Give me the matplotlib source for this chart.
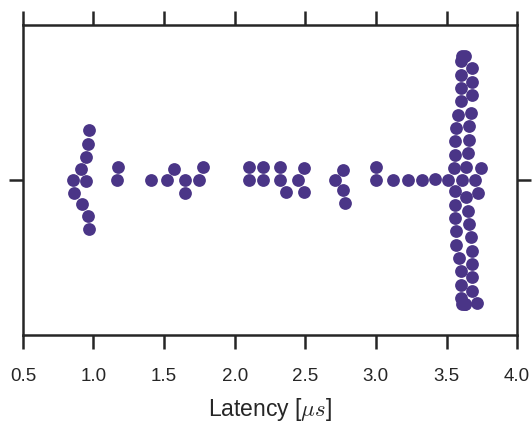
import matplotlib
matplotlib.use("Agg")
import matplotlib.pyplot as plt
from matplotlib.collections import PathCollection
import seaborn as sns

# latencias (microsegundos)
grupo_bajo = [0.856, 0.861, 0.909, 0.920, 0.946, 0.946, 0.958, 0.958, 0.970, 0.970,
              1.165, 1.175]
grupo_medio = [1.41, 1.52, 1.57, 1.65, 1.65, 1.745, 1.778,
               2.10, 2.10, 2.20, 2.20, 2.32, 2.32, 2.36, 2.45, 2.49, 2.49,
               2.71, 2.77, 2.77, 2.78, 3.00, 3.00, 3.12, 3.23, 3.33, 3.42]
grupo_alto = [3.51, 3.55, 3.56, 3.56, 3.56, 3.56, 3.56, 3.57, 3.57, 3.57, 3.58, 3.59,
              3.60, 3.60, 3.60, 3.60, 3.60, 3.60, 3.60, 3.61, 3.61, 3.61,
              3.63, 3.63, 3.63, 3.64, 3.64, 3.65, 3.65, 3.66, 3.66, 3.66,
              3.67, 3.67, 3.68, 3.68, 3.68, 3.68, 3.68, 3.68, 3.68,
              3.705, 3.715, 3.725, 3.745]
latencia = grupo_bajo + grupo_medio + grupo_alto

xticks = [0.5, 1.0, 1.5, 2.0, 2.5, 3.0, 3.5, 4.0]

sns.set_style("ticks")
plt.rcParams["font.family"] = ["Liberation Sans", "DejaVu Sans"]
plt.rcParams["mathtext.fontset"] = "cm"

fig = plt.figure(figsize=(5.32, 4.23), dpi=100)
ax = fig.add_axes([0.043, 0.208, 0.929, 0.733])

sns.swarmplot(x=latencia, orient="h", color="#4a3587", size=9.2, ax=ax)

ax.set_xlim(0.5, 4.0)
ax.set_ylim(0.5, -0.5)
ax.set_xticks(xticks)
ax.set_xticklabels([f"{t:.1f}" for t in xticks])
ax.set_yticks([0])
ax.set_yticklabels([""])
ax.tick_params(axis="both", direction="out", length=10, width=1.8, color="#262626",
               labelsize=13.5, labelcolor="#262626", pad=14,
               top=True, right=True, labeltop=False, labelright=False)
for s in ax.spines.values():
    s.set_linewidth(1.8)
    s.set_color("#262626")
ax.set_xlabel(r"Latency [$\mu s$]", fontsize=16.5, color="#262626", labelpad=8)

# calcular el enjambre una vez y reflejarlo (en el original los pares suben)
fig.canvas.draw()
for coll in ax.collections:
    if isinstance(coll, PathCollection) and "draw" in coll.__dict__:
        off = coll.get_offsets().copy()
        off[:, 1] = -off[:, 1]
        del coll.draw
        coll.set_offsets(off)

fig.savefig("out.png", dpi=100)
